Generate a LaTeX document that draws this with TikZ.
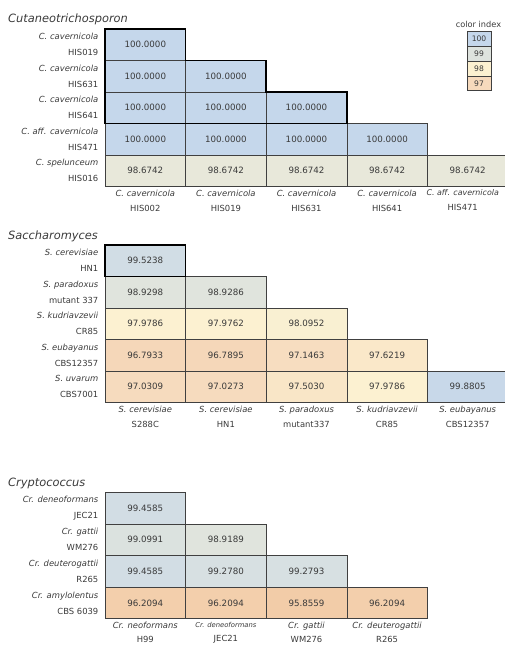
\documentclass[tikz,border=0pt]{standalone}
\usepackage{fontspec}
\setmainfont{DejaVu Sans}
\newfontfamily\taxonfont{DejaVu Sans Oblique}
\newcommand{\taxon}[1]{{\taxonfont #1}}
\usepackage{xcolor}
\usetikzlibrary{positioning}
\definecolor{c100}{HTML}{C5D7EB}
\definecolor{c99}{HTML}{DEE3DE}
\definecolor{c98}{HTML}{FCF1D1}
\definecolor{c97}{HTML}{F6DABD}
\definecolor{c96}{HTML}{F2CCA8}
\definecolor{inkgray}{HTML}{3A3A3A}
\tikzset{
  cellbox/.style={draw=black!75,line width=0.6pt,minimum width=80.6pt,minimum height=31.45pt,inner sep=0pt,outer sep=0pt,anchor=north west,text=inkgray,font=\fontsize{8.7}{10}\selectfont},
  heavy/.style={line width=1.5pt,black,line join=miter},
  rowlabel/.style={anchor=east,align=right,inner sep=0pt,text=inkgray,font=\fontsize{8.4}{16}\selectfont},
  collabel/.style={anchor=center,align=center,inner sep=0pt,text=inkgray,font=\fontsize{8.4}{15}\selectfont},
  paneltitle/.style={anchor=west,inner sep=0pt,text=inkgray,font=\taxonfont\fontsize{11.4}{14}\selectfont},
  keybox/.style={draw=black!75,line width=0.6pt,minimum width=24.3pt,minimum height=14.75pt,inner sep=0pt,outer sep=0pt,text=inkgray,font=\fontsize{7.6}{9}\selectfont}
}

\begin{document}
\begin{tikzpicture}[x=1pt,y=-1pt]
  \useasboundingbox (0,0) rectangle (505,646);
  \clip (0,0) rectangle (505,646);
  % colour key
  \node[text=inkgray,font=\fontsize{8.2}{9}\selectfont] (keyTitle) at (478.5,24) {color index};
  \foreach \k/\col [count=\i] in {100/c100,99/c99,98/c98,97/c97}
    \node[keybox,fill=\col] (key\k) at (479,{31.7+(\i-0.5)*14.75}) {\k};

  % Cutaneotrichosporon
  \begin{scope}[shift={(0,29)}]
    \node[paneltitle] (cutTitle) at (8,-10) {Cutaneotrichosporon};
    \foreach \r/\sp/\st in {1/C. cavernicola/HIS019,2/C. cavernicola/HIS631,3/C. cavernicola/HIS641,4/C. aff. cavernicola/HIS471,5/C. spelunceum/HIS016}
      \node[rowlabel] (cutRow\r) at (98.5,{(\r-0.5)*31.45}) {\taxon{\sp}\\\st};
    \foreach \r/\c/\v/\col in {1/1/100.0000/c100,
        2/1/100.0000/c100,2/2/100.0000/c100,
        3/1/100.0000/c100,3/2/100.0000/c100,3/3/100.0000/c100,
        4/1/100.0000/c100,4/2/100.0000/c100,4/3/100.0000/c100,4/4/100.0000/c100,
        5/1/98.6742/c99!67!c98,5/2/98.6742/c99!67!c98,5/3/98.6742/c99!67!c98,5/4/98.6742/c99!67!c98,5/5/98.6742/c99!67!c98}
      \node[cellbox,fill=\col] (cut\r\c) at ({105+(\c-1)*80.6},{(\r-1)*31.45}) {\v};
    \draw[heavy] (cut11.north west) -| (cut11.south east) -| (cut22.south east) -| (cut33.south east) -- (cut31.south west) -- cycle;
    \foreach \c/\sp/\st in {1/C. cavernicola/HIS002,2/C. cavernicola/HIS019,3/C. cavernicola/HIS631,4/C. cavernicola/HIS641}
      \node[collabel] (cutCol\c) at ({105+(\c-0.5)*80.6},171.5) {\taxon{\sp}\\\st};
    \node[collabel] (cutCol5) at ({105+4.5*80.6-5},171.5) {\taxon{\fontsize{7.9}{15}\selectfont C. aff. cavernicola}\\HIS471};
  \end{scope}

  % Saccharomyces
  \begin{scope}[shift={(0,245)}]
    \node[paneltitle] (sacTitle) at (8,-9) {Saccharomyces};
    \foreach \r/\sp/\st in {1/S. cerevisiae/HN1,2/S. paradoxus/mutant 337,3/S. kudriavzevii/CR85,4/S. eubayanus/CBS12357,5/S. uvarum/CBS7001}
      \node[rowlabel] (sacRow\r) at (98.5,{(\r-0.5)*31.45}) {\taxon{\sp}\\\st};
    \foreach \r/\c/\v/\col in {1/1/99.5238/c100!52!c99,
        2/1/98.9298/c99!93!c98,2/2/98.9286/c99!93!c98,
        3/1/97.9786/c98!98!c97,3/2/97.9762/c98!98!c97,3/3/98.0952/c99!10!c98,
        4/1/96.7933/c97!79!c96,4/2/96.7895/c97!79!c96,4/3/97.1463/c98!15!c97,4/4/97.6219/c98!62!c97,
        5/1/97.0309/c98!3!c97,5/2/97.0273/c98!3!c97,5/3/97.5030/c98!50!c97,5/4/97.9786/c98!98!c97,5/5/99.8805/c100!88!c99}
      \node[cellbox,fill=\col] (sac\r\c) at ({105+(\c-1)*80.6},{(\r-1)*31.45}) {\v};
    \draw[heavy] (sac11.north west) rectangle (sac11.south east);
    \foreach \c/\sp/\st in {1/S. cerevisiae/S288C,2/S. cerevisiae/HN1,3/S. paradoxus/mutant337,4/S. kudriavzevii/CR85,5/S. eubayanus/CBS12357}
      \node[collabel] (sacCol\c) at ({105+(\c-0.5)*80.6},171.5) {\taxon{\sp}\\\st};
  \end{scope}

  % Cryptococcus
  \begin{scope}[shift={(0,492.3)}]
    \node[paneltitle] (cryTitle) at (8,-8.5) {Cryptococcus};
    \foreach \r/\sp/\st in {1/Cr. deneoformans/JEC21,2/Cr. gattii/WM276,3/Cr. deuterogattii/R265,4/Cr. amylolentus/CBS 6039}
      \node[rowlabel] (cryRow\r) at (98.5,{(\r-0.5)*31.6}) {\taxon{\sp}\\\st};
    \foreach \r/\c/\v/\col in {1/1/99.4585/c100!46!c99,
        2/1/99.0991/c100!10!c99,2/2/98.9189/c99!92!c98,
        3/1/99.4585/c100!46!c99,3/2/99.2780/c100!28!c99,3/3/99.2793/c100!28!c99,
        4/1/96.2094/c97!21!c96,4/2/96.2094/c97!21!c96,4/3/95.8559/c96,4/4/96.2094/c97!21!c96}
      \node[cellbox,fill=\col,minimum height=31.6pt] (cry\r\c) at ({105+(\c-1)*80.6},{(\r-1)*31.6}) {\v};
    \foreach \c/\sp/\st in {1/Cr. neoformans/H99,3/Cr. gattii/WM276,4/Cr. deuterogattii/R265}
      \node[collabel,font=\fontsize{8.4}{14}\selectfont] (cryCol\c) at ({105+(\c-0.5)*80.6},140.5) {\taxon{\sp}\\\st};
    \node[collabel,font=\fontsize{8.4}{14}\selectfont] (cryCol2) at ({105+1.5*80.6},140.5) {\taxon{\fontsize{6.8}{14}\selectfont Cr. deneoformans}\\JEC21};
  \end{scope}
\end{tikzpicture}
\end{document}
